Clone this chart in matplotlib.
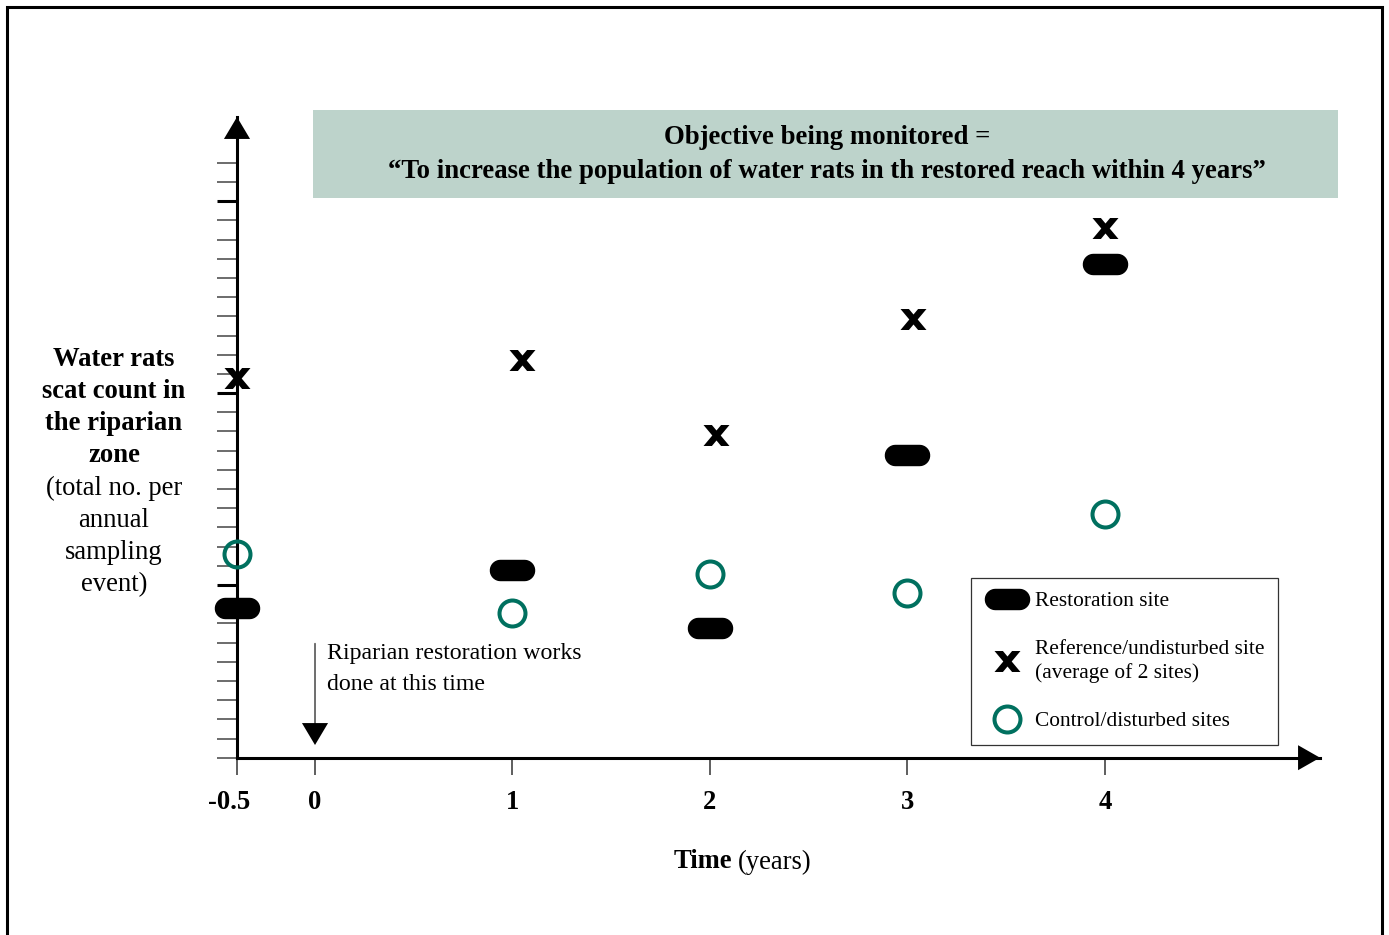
import numpy as np
import matplotlib
matplotlib.use('Agg')
import matplotlib.pyplot as plt
from matplotlib.path import Path
from matplotlib.lines import Line2D
from matplotlib.patches import Rectangle
from matplotlib.ticker import FixedLocator, NullFormatter
from matplotlib.transforms import ScaledTranslation

# --- data ---
years = [-0.5, 1, 2, 3, 4]
restoration = [7.8, 9.8, 6.75, 15.75, 25.75]
ref_years = [-0.5, 1.05, 2.03, 3.03, 4.0]
reference = [19.8, 20.7, 16.8, 22.85, 27.6]
control = [10.6, 7.55, 9.55, 8.6, 12.7]

xtick_vals = [-0.5, 0, 1, 2, 3, 4]
xtick_labels = ['-0.5', '0', '1', '2', '3', '4']
ytick_minor = list(range(0, 32))
ytick_major = [9, 19, 29]

title_lines = ['Objective being monitored =',
               '\u201cTo increase the population of water rats in th restored reach within 4 years\u201d']
ylabel_bold = ['Water rats', 'scat count in', 'the riparian', 'zone']
ylabel_norm = ['(total no. per', 'annual', 'sampling', 'event)']
note_lines = ['Riparian restoration works', 'done at this time']
legend_labels = ['Restoration site',
                 'Reference/undisturbed site\n(average of 2 sites)',
                 'Control/disturbed sites']

W, H = 1389, 935
SERIF = 'Liberation Serif'
TEAL = '#00705f'
BOXC = '#bdd3cb'


def px(x, y):
    """pixel position (from top-left) -> figure fraction"""
    return x / W, 1 - y / H


# marker shapes: rounded "pill" and a bold letter-like x
t = np.linspace(-np.pi / 2, np.pi / 2, 20)
right = np.column_stack([12 + 10 * np.cos(t), 10 * np.sin(t)])
left = np.column_stack([-12 - 10 * np.cos(t), -10 * np.sin(t)])
pill = Path(np.vstack([right, left, right[:1]]), closed=True)

xv = [(-13, 10.5), (-4.6, 10.5), (0, 5.0), (4.6, 10.5), (13, 10.5), (4.2, 0),
      (13, -10.5), (4.6, -10.5), (0, -5.0), (-4.6, -10.5), (-13, -10.5), (-4.2, 0),
      (-13, 10.5)]
xmark = Path(xv, closed=True)


def fwd(x):
    x = np.asarray(x, float)
    return np.where(x < 0, x * 0.79, x)


def inv(u):
    u = np.asarray(u, float)
    return np.where(u < 0, u / 0.79, u)


fig = plt.figure(figsize=(W / 100, H / 100), dpi=100)

# outer frame
fig.patches.append(Rectangle(px(7, 960), (1382 - 7) / W, (960 - 7) / H,
                             transform=fig.transFigure, fill=False,
                             edgecolor='black', linewidth=2.2))

ax_l, ax_r, ax_t, ax_b = 237, 1320, 117, 757.7
ax = fig.add_axes([ax_l / W, 1 - ax_b / H, (ax_r - ax_l) / W, (ax_b - ax_t) / H])
ax.set_xscale('function', functions=(fwd, inv))
ax.set_xlim(-0.5, 5.089)
ax.set_ylim(0, (ax_b - ax_t) / 19.19)
ax.patch.set_alpha(0)

for s in ['top', 'right']:
    ax.spines[s].set_visible(False)
for s in ['left', 'bottom']:
    ax.spines[s].set_linewidth(2.2)

# arrow heads on the axes
ax.annotate('', xy=(0, 1), xycoords='axes fraction', xytext=(0, 0.9),
            arrowprops=dict(arrowstyle='-|>,head_length=1.58,head_width=0.94',
                            fc='black', ec='black', lw=0, shrinkA=0, shrinkB=0,
                            mutation_scale=10))
ax.annotate('', xy=(1, 0), xycoords='axes fraction', xytext=(0.95, 0),
            arrowprops=dict(arrowstyle='-|>,head_length=1.58,head_width=0.9',
                            fc='black', ec='black', lw=0, shrinkA=0, shrinkB=0,
                            mutation_scale=10))

# ticks
ax.yaxis.set_major_locator(FixedLocator(ytick_major))
ax.yaxis.set_minor_locator(FixedLocator(ytick_minor))
ax.yaxis.set_major_formatter(NullFormatter())
ax.tick_params(axis='y', which='major', direction='out', length=14.4, width=2.2, color='black')
ax.tick_params(axis='y', which='minor', direction='out', length=14.4, width=1.1, color='#444444')

ax.xaxis.set_major_locator(FixedLocator(xtick_vals))
ax.xaxis.set_minor_locator(FixedLocator([]))
ax.tick_params(axis='x', direction='out', length=12, width=1.1, color='#333333', pad=11)
ax.set_xticklabels(xtick_labels, fontfamily=SERIF, fontweight='bold', fontsize=19.2)
# the "-0.5" label sits a little left of its tick in the original
first = ax.get_xticklabels()[0]
first.set_transform(first.get_transform() + ScaledTranslation(-0.08, 0, fig.dpi_scale_trans))

# data
ax.plot(years, restoration, linestyle='none', marker=pill, markersize=31.7,
        color='black', zorder=3, clip_on=False)
ax.plot(ref_years, reference, linestyle='none', marker=xmark, markersize=18.7,
        color='black', markeredgewidth=0, zorder=3, clip_on=False)
ax.plot(years, control, linestyle='none', marker='o', markersize=18.7,
        markerfacecolor='none', markeredgecolor=TEAL, markeredgewidth=2.9,
        zorder=3, clip_on=False)

# restoration works arrow at time 0
ax.annotate('', xy=(0, 0.048), xycoords=('data', 'axes fraction'),
            xytext=(0, 0.178), textcoords=('data', 'axes fraction'),
            arrowprops=dict(arrowstyle='-', color='#555555', lw=1.2,
                            shrinkA=0, shrinkB=0))
ax.annotate('', xy=(0, 0.0198), xycoords=('data', 'axes fraction'),
            xytext=(0, 0.06), textcoords=('data', 'axes fraction'),
            arrowprops=dict(arrowstyle='-|>,head_length=1.58,head_width=0.94',
                            fc='black', ec='black', lw=0, shrinkA=0, shrinkB=0,
                            mutation_scale=10))
for i, line in enumerate(note_lines):
    fig.text(*px(327, 653 + 32 * i), line, fontfamily=SERIF, fontsize=17.2,
             ha='left', va='center')

# title box
fig.patches.append(Rectangle(px(313, 198), (1338 - 313) / W, (198 - 110) / H,
                             transform=fig.transFigure, facecolor=BOXC,
                             edgecolor='none', zorder=0))
for i, line in enumerate(title_lines):
    fig.text(*px(827, 137 + 35 * i), line, fontfamily=SERIF, fontweight='bold',
             fontsize=19.3, ha='center', va='center')

# y label block
for i, line in enumerate(ylabel_bold):
    fig.text(*px(114, 359.5 + 32 * i), line, fontfamily=SERIF, fontweight='bold',
             fontsize=19.2, ha='center', va='center')
for i, line in enumerate(ylabel_norm):
    fig.text(*px(114, 488.5 + 32 * i), line, fontfamily=SERIF,
             fontsize=19.2, ha='center', va='center')

# x label: bold "Time" + regular "(years)"
fig.text(*px(674, 862), 'Time', fontfamily=SERIF, fontweight='bold',
         fontsize=19.2, ha='left', va='center')
fig.text(*px(738, 862), '(years)', fontfamily=SERIF, fontsize=19.2,
         ha='left', va='center')

# legend
handles = [
    Line2D([], [], linestyle='none', marker=pill, markersize=31.7, color='black'),
    Line2D([], [], linestyle='none', marker=xmark, markersize=18.7, color='black',
           markeredgewidth=0),
    Line2D([], [], linestyle='none', marker='o', markersize=18.7,
           markerfacecolor='none', markeredgecolor=TEAL, markeredgewidth=2.9),
]
leg = ax.legend(handles, legend_labels, loc='upper left',
                bbox_to_anchor=px(971, 578), bbox_transform=fig.transFigure,
                borderaxespad=0, borderpad=0.62, handlelength=2.1,
                handletextpad=0.28, labelspacing=1.33, fancybox=False,
                prop={'family': SERIF, 'size': 15.4}, framealpha=1)
leg.get_frame().set_edgecolor('#333333')
leg.get_frame().set_linewidth(0.9)
for txt in leg.get_texts():
    txt.set_linespacing(1.3)

fig.savefig('out.png', dpi=100)
